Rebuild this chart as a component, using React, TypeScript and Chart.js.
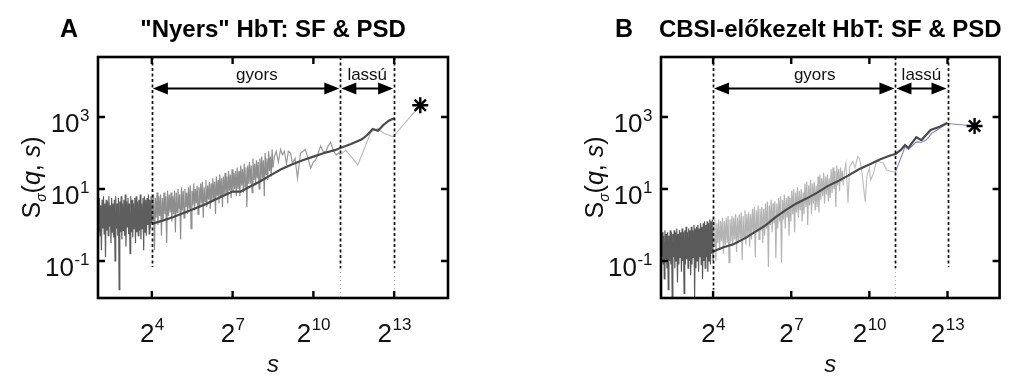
import React, { useEffect, useRef } from "react";
import { Chart, registerables } from "chart.js";

Chart.register(...registerables);

// ---------- DATA (x values are log2(s), y values are log10(S)) ----------
const xTickExponents = [4, 7, 10, 13];
const yTickExponents = [-1, 1, 3];
const regionBounds = [4, 11, 13];
const regionLabels = ["gyors", "lassú"];
const xTitle = "s";

const titleA = '"Nyers" HbT: SF & PSD';
const titleB = "CBSI-előkezelt HbT: SF & PSD";

// Panel A – structure function (dark line)
const sfA_log2s = [4.0, 4.4, 4.8, 5.2, 5.6, 6.0, 6.4, 6.8, 7.0, 7.3, 7.6, 8.0, 8.4, 8.8, 9.2, 9.6, 10.0, 10.4, 10.8, 11.0, 11.4, 11.8, 12.0, 12.2, 12.4, 12.6, 12.8, 13.0];
const sfA_log10 = [0.03, 0.12, 0.22, 0.34, 0.46, 0.58, 0.72, 0.86, 0.93, 0.93, 1.05, 1.2, 1.38, 1.55, 1.68, 1.8, 1.9, 2.0, 2.08, 2.14, 2.25, 2.38, 2.5, 2.67, 2.62, 2.78, 2.9, 2.97];
// Panel A – PSD, s = 2^2 … 2^4 (dark)
const psdA_dark_log10 = [
  0.6, -0.2, 0.75, -0.3, 0.55, -0.7, 0.7, -0.1, 0.8, -0.25, 0.6, -0.9, 0.7, -0.15, 0.65, -0.3, 0.8, -0.05, 0.55, -0.5,
  0.75, -0.2, 0.6, -0.35, 0.7, -1.0, 0.8, -0.1, 0.6, -0.3, 0.75, -1.8, 0.65, -0.2, 0.8, -0.4, 0.6, -0.15, 0.7, -0.3,
  0.85, -0.6, 0.65, -0.05, 0.75, -0.25, 0.6, -0.8, 0.8, -0.2, 0.7, -0.35, 0.6, -0.1, 0.75, -0.5, 0.8, -0.2, 0.65, -0.3,
  0.7, -0.15, 0.85, -0.4, 0.6, -0.1, 0.75, -0.7, 0.8, -0.2, 0.7, -0.3, 0.75, 0.0, 0.85, -0.25, 0.7, -0.1, 0.8, 0.05,
];
// Panel A – PSD, s = 2^4 … 2^8.5 (medium)
const psdA_mid_log10 = [
  0.8, 0.1, 0.85, -0.7, 0.75, 0.2, 0.9, 0.0, 0.8, 0.25, 0.85, -0.3, 0.75, 0.15,
  0.9, 0.3, 0.8, -0.5, 0.95, 0.25, 0.85, 0.35, 0.9, 0.1, 0.8, 0.3, 0.95, -0.2,
  0.9, 0.35, 1.0, 0.45, 0.85, -0.4, 1.05, 0.4, 0.95, 0.2, 1.0, 0.5, 0.9, 0.3,
  1.05, 0.45, 1.1, -0.1, 0.95, 0.55, 1.15, 0.4, 1.0, 0.6, 1.1, 0.3, 1.05, 0.5,
  1.15, 0.6, 1.2, 0.2, 1.05, 0.65, 1.25, 0.5, 1.1, 0.7, 1.2, 0.45, 1.15, 0.65,
  1.3, 0.7, 1.2, 0.3, 1.35, 0.8, 1.25, 0.6, 1.4, 0.75, 1.3, 0.5, 1.35, 0.85,
  1.45, 0.85, 1.35, 0.6, 1.5, 0.95, 1.4, 0.75, 1.55, 0.9, 1.45, 1.0, 1.5, 0.8,
  1.6, 1.0, 1.5, 0.8, 1.65, 1.1, 1.55, 0.9, 1.7, 1.05, 1.6, 0.5, 1.65, 1.15,
  1.75, 1.15, 1.65, 0.9, 1.85, 1.25, 1.7, 1.1, 1.8, 1.3, 1.75, 1.0, 1.85, 1.2,
  1.9, 1.3, 1.8, 0.8, 2.0, 1.4, 1.85, 1.25, 2.05, 1.5, 1.9, 1.35, 2.1, 1.6,
];
// Panel A – PSD, sparse part 2^8.5 … 2^11
const psdA_sparse_log2s = [8.5, 8.55, 8.62, 8.7, 8.78, 8.85, 8.92, 9.0, 9.07, 9.15, 9.22, 9.32, 9.41, 9.52, 9.62, 9.7, 9.8, 9.9, 10.0, 10.08, 10.18, 10.27, 10.36, 10.46, 10.55, 10.64, 10.75, 10.85, 10.94, 11.0];
const psdA_sparse_log10 = [1.6, 1.9, 2.05, 1.75, 2.1, 1.95, 2.05, 1.7, 2.05, 2.0, 1.72, 1.85, 1.3, 2.0, 2.05, 2.1, 1.85, 1.58, 1.75, 1.8, 2.0, 2.2, 2.05, 2.03, 2.2, 2.3, 2.05, 1.95, 2.0, 1.95];
// Panel A – PSD, slow part 2^11 … asterisk
const psdA_slow_log2s = [11.0, 11.2, 11.65, 11.87, 12.13, 12.4, 12.5, 12.62, 12.96, 13.97];
const psdA_slow_log10 = [1.95, 2.08, 1.67, 2.08, 2.58, 2.69, 2.62, 2.55, 2.45, 3.33];
const starA_log2s = [13.97];
const starA_log10 = [3.33];

// Panel B – structure function
const sfB_log2s = [4.0, 4.4, 4.8, 5.2, 5.6, 6.0, 6.4, 6.8, 7.2, 7.6, 8.0, 8.4, 8.8, 9.2, 9.6, 10.0, 10.4, 10.8, 11.0, 11.2, 11.37, 11.5, 11.8, 12.0, 12.35, 12.7, 13.0];
const sfB_log10 = [-0.74, -0.62, -0.53, -0.38, -0.2, -0.02, 0.22, 0.42, 0.6, 0.74, 0.9, 1.08, 1.22, 1.38, 1.55, 1.68, 1.82, 1.93, 1.97, 2.08, 2.22, 2.14, 2.44, 2.36, 2.64, 2.73, 2.84];
// Panel B – PSD, s = 2^2 … 2^4 (dark)
const psdB_dark_log10 = [
  -0.25, -0.9, -0.2, -1.1, -0.3, -1.5, -0.15, -0.95, -0.25, -1.2, -0.2, -1.8, -0.3, -1.0, -0.15, -1.1, -0.2, -2.1, -0.25, -0.9,
  -0.15, -1.2, -0.2, -1.0, -0.1, -1.6, -0.25, -1.1, -0.15, -0.9, -0.2, -1.3, -0.1, -1.0, -0.2, -1.9, -0.15, -1.1, -0.05, -0.95,
  -0.2, -1.2, -0.1, -1.0, -0.15, -1.4, -0.05, -1.1, -0.15, -0.9, 0.0, -2.0, -0.1, -1.2, -0.05, -1.0, 0.0, -1.3, -0.1, -0.9,
  0.05, -1.1, -0.05, -1.5, 0.05, -1.0, 0.1, -1.2, 0.0, -0.9, 0.1, -1.3, 0.05, -1.0, 0.15, -1.1, 0.1, -0.8, 0.15, -1.0,
];
// Panel B – PSD, s = 2^4 … 2^9 (light)
const psdB_mid_log10 = [
  0.1, -0.6, 0.15, -1.0, 0.05, -0.5, 0.15, -0.7, 0.1, -0.45, 0.2, -0.8, 0.1, -0.55,
  0.2, -0.5, 0.25, -1.05, 0.15, -0.45, 0.25, -0.6, 0.2, -0.4, 0.3, -0.75, 0.2, -0.5,
  0.3, -0.4, 0.35, -0.97, 0.25, -0.35, 0.4, -0.55, 0.3, -0.3, 0.35, -0.6, 0.3, -0.4,
  0.45, -0.25, 0.5, -0.9, 0.4, -0.2, 0.55, -0.4, 0.45, -0.15, 0.5, -0.5, 0.45, -0.3,
  0.6, -0.1, 0.65, -1.17, 0.55, 0.0, 0.7, -0.2, 0.6, 0.05, 0.65, -0.92, 0.6, -0.1,
  0.75, 0.1, 0.8, -1.05, 0.7, 0.15, 0.85, -0.1, 0.75, 0.2, 0.8, -0.3, 0.75, 0.1,
  0.95, 0.3, 1.0, -0.2, 0.9, 0.35, 1.05, 0.2, 0.95, 0.4, 1.0, 0.1, 0.9, 0.3,
  1.15, 0.5, 1.2, 0.0, 1.1, 0.55, 1.25, 0.3, 1.15, 0.6, 1.2, 0.4, 1.1, 0.5,
  1.35, 0.35, 1.4, 0.7, 1.3, 0.8, 1.45, 0.6, 1.35, 0.85, 1.4, 0.65, 1.3, 0.75,
  1.55, 0.9, 1.6, 1.0, 1.5, 0.5, 1.65, 1.1, 1.55, 0.95, 1.6, 1.2, 1.5, 1.1,
];
// Panel B – PSD, sparse part 2^9 … 2^11
const psdB_sparse_log2s = [9.0, 9.05, 9.1, 9.18, 9.24, 9.36, 9.45, 9.55, 9.62, 9.7, 9.84, 9.9, 10.0, 10.05, 10.16, 10.28, 10.4, 10.54, 10.66, 10.78, 10.9, 11.0];
const psdB_sparse_log10 = [1.1, 1.55, 1.72, 0.61, 1.62, 1.76, 1.6, 1.9, 1.85, 1.55, 0.65, 1.34, 1.58, 1.25, 1.44, 1.8, 1.75, 1.72, 1.53, 1.5, 1.48, 1.48];
// Panel B – PSD, slow part 2^11 … asterisk
const psdB_slow_log2s = [11.0, 11.2, 11.37, 11.5, 11.8, 12.0, 12.18, 12.4, 12.7, 13.0, 14.04];
const psdB_slow_log10 = [1.48, 1.85, 2.17, 2.1, 2.31, 2.3, 2.36, 2.55, 2.69, 2.82, 2.75];
const starB_log2s = [14.04];
const starB_log10 = [2.75];

// ---------- helpers ----------
const FONT = '"Liberation Sans", Arial, Helvetica, sans-serif';

const pts = (xs: number[], ys: number[]) => xs.map((e, i) => ({ x: Math.pow(2, e), y: Math.pow(10, ys[i]) }));
// evenly spaced positions on the log-s axis for the dense PSD stretches
const dense = (fromExp: number, toExp: number, ys: number[]) =>
  ys.map((v, i) => ({ x: Math.pow(2, fromExp + ((toExp - fromExp) * i) / (ys.length - 1)), y: Math.pow(10, v) }));

type DashSpec = { e: number; denseTo: number; faint: boolean };
type PanelCfg = {
  letter: string;
  title: string;
  letterDx: number;
  padLeft: number;
  padRight: number;
  datasets: any[];
  dashes: DashSpec[];
};

function drawPow(ctx: CanvasRenderingContext2D, base: string, exp: string, x: number, y: number, align: "center" | "right", bs: number, ss: number, rise: number) {
  ctx.font = `${bs}px ${FONT}`;
  const wb = ctx.measureText(base).width;
  ctx.font = `${ss}px ${FONT}`;
  const we = ctx.measureText(exp).width;
  const start = align === "center" ? x - (wb + we) / 2 : x - wb - we;
  ctx.textAlign = "left";
  ctx.textBaseline = "alphabetic";
  ctx.font = `${bs}px ${FONT}`;
  ctx.fillText(base, start, y);
  ctx.font = `${ss}px ${FONT}`;
  ctx.fillText(exp, start + wb + 0.5, y - rise);
}

function makeOverlay(cfg: PanelCfg) {
  return {
    id: "overlay",
    afterDatasetsDraw(chart: any) {
      const ctx: CanvasRenderingContext2D = chart.ctx;
      const { left, right, top, bottom } = chart.chartArea;
      const xs = chart.scales.x;
      const ys = chart.scales.y;
      const X = (e: number) => xs.getPixelForValue(Math.pow(2, e));
      const Y = (e: number) => ys.getPixelForValue(Math.pow(10, e));
      ctx.save();
      ctx.fillStyle = "#000";
      ctx.strokeStyle = "#000";

      // dashed region boundaries
      cfg.dashes.forEach((d) => {
        const x = Math.round(X(d.e)) + 0.5;
        const yEnd = Y(d.denseTo);
        ctx.setLineDash([3, 2.5]);
        ctx.lineWidth = 1.7;
        ctx.strokeStyle = "#111";
        ctx.beginPath();
        ctx.moveTo(x, top);
        ctx.lineTo(x, yEnd);
        ctx.stroke();
        if (d.faint) {
          ctx.setLineDash([1, 3]);
          ctx.lineWidth = 1;
          ctx.strokeStyle = "#aaa";
          ctx.beginPath();
          ctx.moveTo(x, yEnd);
          ctx.lineTo(x, bottom);
          ctx.stroke();
        }
      });
      ctx.setLineDash([]);

      // double arrows
      const ay = Math.round(Y(3.8)) + 0.5;
      const arrow = (x1: number, x2: number) => {
        const hl = 15, hw = 6;
        ctx.strokeStyle = "#000";
        ctx.fillStyle = "#000";
        ctx.lineWidth = 2;
        ctx.beginPath();
        ctx.moveTo(x1 + hl - 1, ay);
        ctx.lineTo(x2 - hl + 1, ay);
        ctx.stroke();
        ctx.beginPath();
        ctx.moveTo(x1, ay);
        ctx.lineTo(x1 + hl, ay - hw);
        ctx.lineTo(x1 + hl, ay + hw);
        ctx.closePath();
        ctx.fill();
        ctx.beginPath();
        ctx.moveTo(x2, ay);
        ctx.lineTo(x2 - hl, ay - hw);
        ctx.lineTo(x2 - hl, ay + hw);
        ctx.closePath();
        ctx.fill();
      };
      arrow(X(regionBounds[0]) + 1, X(regionBounds[1]) - 1);
      arrow(X(regionBounds[1]) + 1, X(regionBounds[2]) - 1);
      ctx.font = `17px ${FONT}`;
      ctx.textAlign = "center";
      ctx.textBaseline = "alphabetic";
      ctx.fillStyle = "#111";
      ctx.fillText(regionLabels[0], X(7.9), ay - 9);
      ctx.fillText(regionLabels[1], X(12), ay - 9);

      // frame
      ctx.strokeStyle = "#000";
      ctx.lineWidth = 2.6;
      ctx.strokeRect(left, top, right - left, bottom - top);

      // inward ticks
      ctx.lineWidth = 2.4;
      const tl = 7;
      xTickExponents.forEach((e) => {
        const x = X(e);
        ctx.beginPath();
        ctx.moveTo(x, bottom);
        ctx.lineTo(x, bottom - tl);
        ctx.moveTo(x, top);
        ctx.lineTo(x, top + tl);
        ctx.stroke();
      });
      yTickExponents.forEach((e) => {
        const y = Y(e);
        ctx.beginPath();
        ctx.moveTo(left, y);
        ctx.lineTo(left + tl, y);
        ctx.moveTo(right, y);
        ctx.lineTo(right - tl, y);
        ctx.stroke();
      });

      // tick labels
      ctx.fillStyle = "#111";
      xTickExponents.forEach((e) => drawPow(ctx, "2", String(e), X(e), bottom + 44, "center", 26, 17, 12));
      yTickExponents.forEach((e) => drawPow(ctx, "10", String(e), left - 9, Y(e) + 15, "right", 26, 17, 11));

      // x title
      ctx.font = `italic 24px ${FONT}`;
      ctx.textAlign = "center";
      ctx.fillText(xTitle, (left + right) / 2, bottom + 74);

      // y title: S_σ(q, s)
      const parts: [string, string, number][] = [
        ["S", `25px ${FONT}`, 0],
        ["σ", `italic 14px ${FONT}`, 6],
        ["(", `25px ${FONT}`, 0],
        ["q", `italic 25px ${FONT}`, 0],
        [", ", `25px ${FONT}`, 0],
        ["s", `italic 25px ${FONT}`, 0],
        [")", `25px ${FONT}`, 0],
      ];
      let total = 0;
      const widths = parts.map(([t, f]) => {
        ctx.font = f;
        const w = ctx.measureText(t).width;
        total += w;
        return w;
      });
      ctx.save();
      ctx.translate(left - 66, (top + bottom) / 2);
      ctx.rotate(-Math.PI / 2);
      ctx.textAlign = "left";
      let cx = -total / 2;
      parts.forEach(([t, f, dy], i) => {
        ctx.font = f;
        ctx.fillText(t, cx, 8 + dy);
        cx += widths[i];
      });
      ctx.restore();

      // panel letter and title
      ctx.fillStyle = "#000";
      ctx.font = `bold 25px ${FONT}`;
      ctx.textAlign = "left";
      ctx.fillText(cfg.letter, left + cfg.letterDx, 37);
      ctx.font = `bold 24px ${FONT}`;
      ctx.textAlign = "center";
      ctx.fillText(cfg.title, (left + right) / 2, 37);
      ctx.restore();
    },
  };
}

const line = (data: any[], color: string, width: number, order: number) => ({
  data,
  borderColor: color,
  borderWidth: width,
  pointRadius: 0,
  fill: false,
  tension: 0,
  order,
});
const star = (data: any[]) => ({
  data,
  showLine: false,
  pointStyle: "star",
  pointRadius: 8,
  borderColor: "#000",
  backgroundColor: "#000",
  borderWidth: 2.4,
  order: 0,
});

const panelA: PanelCfg = {
  letter: "A",
  title: titleA,
  letterDx: -38,
  padLeft: 98,
  padRight: 57,
  datasets: [
    star(pts(starA_log2s, starA_log10)),
    line(pts(sfA_log2s, sfA_log10), "#4a4a4a", 2.2, 1),
    line(pts(psdA_slow_log2s, psdA_slow_log10), "#bcbcbc", 1.2, 3),
    line(pts(psdA_sparse_log2s, psdA_sparse_log10), "#9a9a9a", 1.2, 4),
    line(dense(4, 8.5, psdA_mid_log10), "#8e8e8e", 1.2, 5),
    line(dense(2, 4, psdA_dark_log10), "#5e5e5e", 1.2, 6),
  ],
  dashes: [
    { e: regionBounds[0], denseTo: -1.17, faint: false },
    { e: regionBounds[1], denseTo: -1.2, faint: true },
    { e: regionBounds[2], denseTo: -1.2, faint: true },
  ],
};

const panelB: PanelCfg = {
  letter: "B",
  title: titleB,
  letterDx: -46,
  padLeft: 156,
  padRight: 2,
  datasets: [
    star(pts(starB_log2s, starB_log10)),
    line(pts(sfB_log2s, sfB_log10), "#4a4a4a", 2.2, 1),
    line(pts(psdB_slow_log2s, psdB_slow_log10), "#8484c8", 1.1, 3),
    line(pts(psdB_sparse_log2s, psdB_sparse_log10), "#c0c0c0", 1.2, 4),
    line(dense(4, 9, psdB_mid_log10), "#b4b4b4", 1.2, 5),
    line(dense(2, 4, psdB_dark_log10), "#5a5a5a", 1.2, 6),
  ],
  dashes: [
    { e: regionBounds[0], denseTo: -1.8, faint: true },
    { e: regionBounds[1], denseTo: -1.2, faint: true },
    { e: regionBounds[2], denseTo: -1.17, faint: false },
  ],
};

function Panel({ cfg, leftPx }: { cfg: PanelCfg; leftPx: number }) {
  const ref = useRef<HTMLCanvasElement | null>(null);
  useEffect(() => {
    if (!ref.current) return;
    const chart = new Chart(ref.current, {
      type: "line",
      data: { datasets: cfg.datasets },
      options: {
        animation: false,
        responsive: false,
        maintainAspectRatio: false,
        events: [],
        layout: { padding: { left: cfg.padLeft, right: cfg.padRight, top: 57, bottom: 78 } },
        plugins: { legend: { display: false }, tooltip: { enabled: false }, title: { display: false } },
        scales: {
          x: { type: "logarithmic", min: 4, max: 32768, display: false, bounds: "data" },
          y: { type: "logarithmic", min: Math.pow(10, -2.03), max: Math.pow(10, 4.67), display: false, bounds: "data" },
        },
      } as any,
      plugins: [makeOverlay(cfg)],
    } as any);
    return () => chart.destroy();
  }, [cfg]);
  return (
    <canvas
      ref={ref}
      width={505}
      height={376}
      style={{ position: "absolute", left: leftPx, top: 0, width: 505, height: 376 }}
    />
  );
}

export default function App() {
  return (
    <div style={{ position: "fixed", left: 0, top: 0, width: 1010, height: 376, background: "#fff", overflow: "hidden" }}>
      <Panel cfg={panelA} leftPx={0} />
      <Panel cfg={panelB} leftPx={505} />
    </div>
  );
}
